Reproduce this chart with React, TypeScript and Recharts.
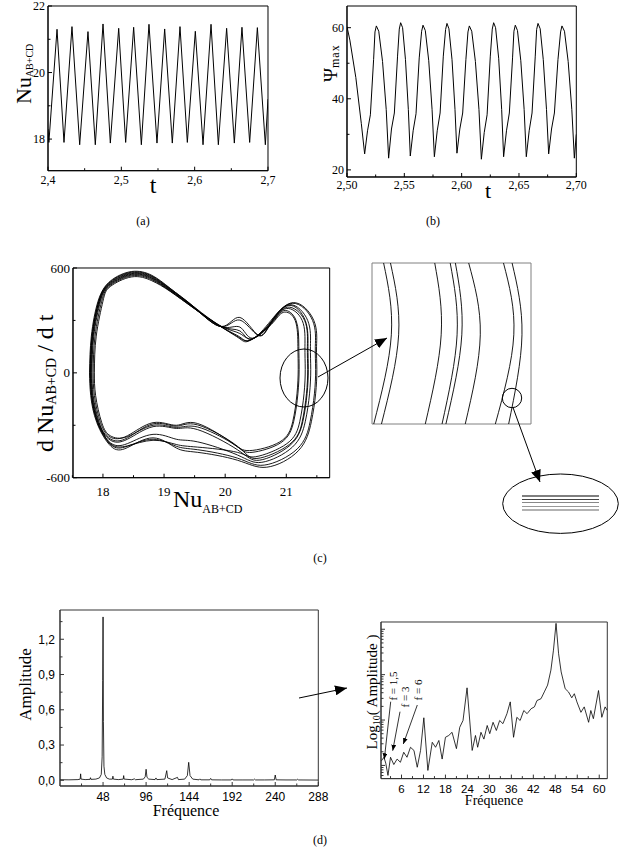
import React from "react";
import { LineChart, Line, XAxis, YAxis, ReferenceArea } from "recharts";

const SERIF = "'Liberation Serif', 'Times New Roman', serif";
const SANS = "'Liberation Sans', Arial, sans-serif";

// (a) Nu_AB+CD against t
const nuSeries: [number, number][] = [
  [2.4, 18.3], [2.4012, 17.9], [2.4123, 21.3], [2.4218, 17.9], [2.4327, 21.38], [2.4432, 17.83],
  [2.4545, 21.23], [2.4645, 17.83], [2.475, 21.46], [2.485, 17.88], [2.4964, 21.33], [2.5059, 17.9],
  [2.5168, 21.36], [2.5273, 17.83], [2.5377, 21.45], [2.5486, 17.88], [2.5591, 21.31], [2.5695, 17.88],
  [2.58, 21.38], [2.59, 17.9], [2.6009, 21.24], [2.6114, 17.83], [2.6223, 21.45], [2.6323, 17.83],
  [2.6436, 21.33], [2.6541, 17.88], [2.6645, 21.36], [2.675, 17.9], [2.6855, 21.35], [2.6964, 17.83],
  [2.7, 19.2],
];

// (b) psi max against t
const psiSeries: [number, number][] = [
  [2.5, 60.3], [2.5025, 56.5], [2.5077, 46], [2.5125, 33], [2.5154, 24.5],
  [2.5179, 31], [2.5204, 35.5], [2.5232, 51], [2.5244, 58.8], [2.5256, 60.5],
  [2.5277, 59], [2.531, 50.5], [2.5342, 37], [2.5363, 23.3],
  [2.5388, 31.5], [2.5413, 36], [2.5441, 52], [2.5456, 59.6], [2.5468, 61.4],
  [2.5485, 60], [2.551, 51], [2.5535, 37], [2.5552, 23.9],
  [2.5577, 31], [2.5602, 35.8], [2.563, 51.5], [2.5651, 59], [2.5663, 60.7],
  [2.5683, 59.2], [2.5713, 50.7], [2.5742, 37], [2.5762, 23.7],
  [2.5787, 31], [2.5812, 36], [2.584, 52], [2.586, 59.5], [2.5872, 61.2],
  [2.5889, 59.7], [2.5916, 51], [2.5942, 37], [2.5959, 24.7],
  [2.5984, 31.5], [2.6009, 36], [2.6037, 51], [2.6055, 58.8], [2.6067, 60.5],
  [2.6088, 59], [2.612, 50.5], [2.6151, 37], [2.6172, 23.0],
  [2.6197, 30.5], [2.6222, 35.5], [2.625, 52], [2.6267, 59.6], [2.6279, 61.4],
  [2.6296, 60], [2.6323, 51.4], [2.6349, 37], [2.6366, 23.7],
  [2.6391, 31], [2.6416, 36], [2.6444, 51.5], [2.6456, 59], [2.6468, 60.7],
  [2.6487, 59.2], [2.6516, 50.7], [2.6545, 37], [2.6564, 23.7],
  [2.6589, 31], [2.6614, 36], [2.6642, 52], [2.6654, 59.5], [2.6666, 61.2],
  [2.6685, 59.7], [2.6712, 51], [2.674, 37], [2.6759, 24.5],
  [2.6784, 31.5], [2.6809, 36], [2.684, 51], [2.6863, 58.8], [2.6875, 60.5],
  [2.6897, 59], [2.6929, 50.5], [2.6961, 37], [2.6983, 23.3],
  [2.7, 30],
];

// (c) phase portrait, one closed loop per orbit
const loop1: [number, number][] = [
  [17.78, 0], [17.81, 210], [17.92, 410], [18.12, 525], [18.47, 580], [18.8, 558], [19.1, 484], [19.5, 375],
  [19.94, 266], [20.24, 225], [20.45, 196], [20.75, 300], [21.12, 402], [21.45, 300], [21.495, 150], [21.5, 20],
  [21.48, -120], [21.41, -280], [21.2, -445], [20.68, -540], [20.2, -500], [19.55, -455], [19.2, -430],
  [18.82, -372], [18.4, -428], [18.13, -420], [17.9, -285], [17.8, -130], [17.78, 0],
];
const loop2: [number, number][] = [
  [17.79, 0], [17.82, 210], [17.93, 410], [18.12, 521], [18.47, 576], [18.8, 554], [19.1, 482], [19.5, 374],
  [19.94, 265], [20.24, 317], [20.54, 216], [20.75, 290], [21.1, 398], [21.43, 300], [21.475, 150], [21.48, 20],
  [21.46, -120], [21.39, -280], [21.18, -435], [20.64, -528], [20.2, -488], [19.55, -440], [19.2, -420],
  [18.82, -380], [18.4, -420], [18.13, -412], [17.91, -285], [17.81, -130], [17.79, 0],
];
const loop3: [number, number][] = [
  [17.795, 0], [17.825, 210], [17.935, 410], [18.12, 517], [18.47, 572], [18.8, 550], [19.1, 479], [19.5, 372],
  [19.94, 264], [20.24, 240], [20.43, 192], [20.75, 292], [21.06, 390], [21.35, 300], [21.395, 150], [21.4, 20],
  [21.38, -120], [21.31, -280], [21.1, -425], [20.6, -512], [20.2, -470], [19.55, -395], [19.2, -380],
  [18.82, -352], [18.4, -405], [18.12, -400], [17.915, -285], [17.815, -130], [17.795, 0],
];
const loop4: [number, number][] = [
  [17.8, 0], [17.83, 210], [17.94, 410], [18.12, 513], [18.47, 568], [18.8, 546], [19.1, 477], [19.5, 371],
  [19.94, 264], [20.24, 302], [20.54, 214], [20.75, 285], [21.04, 386], [21.31, 300], [21.355, 150], [21.36, 20],
  [21.34, -120], [21.27, -280], [21.06, -415], [20.56, -500], [20.2, -440], [19.55, -325], [19.2, -318],
  [18.82, -308], [18.4, -380], [18.12, -385], [17.92, -285], [17.82, -130], [17.8, 0],
];
const loop5: [number, number][] = [
  [17.81, 0], [17.84, 210], [17.95, 410], [18.12, 509], [18.47, 564], [18.8, 542], [19.1, 474], [19.5, 370],
  [19.94, 263], [20.24, 205], [20.42, 188], [20.75, 288], [21.02, 376], [21.3, 300], [21.345, 150], [21.35, 20],
  [21.33, -120], [21.26, -280], [21.05, -410], [20.52, -490], [20.2, -420], [19.55, -298], [19.2, -305],
  [18.82, -292], [18.4, -372], [18.12, -378], [17.93, -285], [17.83, -130], [17.81, 0],
];
const loop6: [number, number][] = [
  [17.82, 0], [17.85, 210], [17.96, 410], [18.12, 505], [18.47, 560], [18.8, 538], [19.1, 471], [19.5, 368],
  [19.94, 263], [20.24, 262], [20.44, 198], [20.75, 282], [21.0, 368], [21.26, 300], [21.305, 150], [21.31, 20],
  [21.29, -120], [21.22, -280], [21.01, -405], [20.5, -480], [20.2, -455], [19.55, -425], [19.2, -410],
  [18.82, -386], [18.4, -418], [18.12, -405], [17.94, -285], [17.84, -130], [17.82, 0],
];
const loop7: [number, number][] = [
  [17.84, 0], [17.87, 210], [17.98, 410], [18.12, 500], [18.47, 555], [18.8, 533], [19.1, 468], [19.5, 367],
  [19.94, 262], [20.24, 195], [20.41, 186], [20.75, 280], [20.96, 356], [21.16, 300], [21.205, 150], [21.21, 20],
  [21.19, -120], [21.12, -280], [20.91, -400], [20.44, -455], [20.15, -410], [19.55, -290], [19.2, -300],
  [18.82, -285], [18.4, -360], [18.12, -368], [17.96, -285], [17.86, -130], [17.84, 0],
];
const loop8: [number, number][] = [
  [17.86, 0], [17.89, 210], [18.0, 410], [18.12, 494], [18.47, 549], [18.8, 527], [19.1, 466], [19.5, 366],
  [19.94, 262], [20.24, 200], [20.42, 190], [20.75, 275], [20.95, 346], [21.145, 300], [21.19, 150], [21.195, 20],
  [21.175, -120], [21.105, -280], [20.895, -395], [20.4, -445], [20.1, -400], [19.55, -310], [19.2, -312],
  [18.82, -300], [18.4, -365], [18.12, -360], [17.98, -285], [17.88, -130], [17.86, 0],
];
const loops = [loop1, loop2, loop3, loop4, loop5, loop6, loop7, loop8];

// (c) magnified window: the eight branches as read inside the square
const zoomArcs: [number, number][][] = [
  [[21.177, 200], [21.195, 35], [21.154, -170]],
  [[21.193, 200], [21.212, 35], [21.172, -170]],
  [[21.296, 200], [21.311, 35], [21.274, -170]],
  [[21.332, 200], [21.348, 35], [21.313, -170]],
  [[21.344, 200], [21.359, 35], [21.322, -170]],
  [[21.375, 200], [21.402, 35], [21.367, -170]],
  [[21.456, 200], [21.48, 35], [21.437, -170]],
  [[21.476, 200], [21.499, 35], [21.468, -170]],
];

// (d) amplitude spectrum
const spectrum: [number, number][] = [
  [0, 0.005], [10, 0.004], [20, 0.006], [22.5, 0.01], [23, 0.055], [23.5, 0.01], [28, 0.006], [33.5, 0.008],
  [34, 0.022], [34.5, 0.008], [40, 0.01], [44, 0.02], [46, 0.05], [47, 0.2], [47.6, 0.85], [48, 1.39],
  [48.4, 0.5], [49, 0.12], [50, 0.05], [52, 0.02], [55, 0.01], [58.5, 0.01], [59, 0.035], [59.5, 0.01],
  [65, 0.006], [70.5, 0.01], [71, 0.04], [71.5, 0.01], [80, 0.005], [83, 0.012], [84, 0.005], [93, 0.01],
  [95, 0.03], [96, 0.094], [97, 0.025], [99, 0.01], [106, 0.006], [107, 0.02], [108, 0.006], [117, 0.01],
  [119, 0.082], [120, 0.02], [125, 0.006], [131, 0.025], [132, 0.006], [139, 0.01], [142, 0.04], [143.5, 0.153],
  [145, 0.04], [148, 0.01], [155, 0.004], [156, 0.012], [157, 0.004], [167, 0.004], [168, 0.016], [169, 0.004],
  [180, 0.003], [191, 0.003], [192, 0.012], [193, 0.003], [204, 0.003], [216, 0.003], [217, 0.01], [218, 0.003],
  [228, 0.003], [239, 0.004], [240, 0.045], [241, 0.004], [252, 0.003], [264, 0.003], [265, 0.009], [266, 0.003],
  [288, 0.002],
];

// (d) log10 of the amplitude, low frequencies
const logSpectrum: [number, number][] = [
  [0.5, -2.9], [1.2, -2.82], [1.7, -2.95], [2.3, -3.22], [3.0, -2.82], [3.9, -2.98], [4.8, -2.86], [5.7, -2.93],
  [6.6, -2.71], [7.5, -2.82], [8.45, -2.6], [9.4, -2.67], [10.3, -3.04], [11.2, -2.67], [12.1, -1.95], [13.2, -3.11],
  [14.4, -2.49], [15.3, -2.6], [16.2, -2.45], [17.1, -2.86], [18.0, -2.38], [18.9, -2.34], [19.8, -2.27], [21.0, -2.63],
  [21.9, -2.16], [22.8, -2.01], [23.9, -1.29], [25.3, -2.67], [26.2, -2.34], [26.8, -2.6], [27.7, -2.27], [28.5, -2.42],
  [29.4, -2.12], [30.1, -2.3], [31.0, -2.05], [31.9, -2.23], [32.8, -2.01], [33.7, -2.08], [34.8, -1.86], [35.7, -1.6],
  [36.6, -2.38], [37.5, -1.94], [38.4, -2.01], [39.4, -1.79], [40.3, -1.86], [41.4, -1.75], [42.3, -1.71], [43.0, -1.57],
  [44.1, -1.53], [45.0, -1.38], [45.9, -1.23], [46.8, -0.9], [47.5, -0.46], [48.2, 0.13], [48.9, -0.54], [49.6, -0.94],
  [50.7, -1.31], [51.6, -1.38], [52.5, -1.51], [53.2, -1.42], [53.9, -1.6], [55.0, -1.83], [55.9, -1.71], [57.1, -2.05],
  [57.7, -1.79], [58.4, -1.97], [59.8, -1.35], [60.7, -1.94], [61.6, -1.71], [62.2, -1.79],
];

// ticks
const aMajorX = [2.4, 2.5, 2.6, 2.7];
const aMinorX = [2.45, 2.55, 2.65];
const aMajorY = [18, 20, 22];
const aMinorY = [19, 21];
const bMajorX = [2.5, 2.55, 2.6, 2.65, 2.7];
const bMinorX = [2.525, 2.575, 2.625, 2.675];
const bMajorY = [20, 40, 60];
const bMinorY = [30, 50];
const cMajorX = [18, 19, 20, 21];
const cMinorX = [17.5, 18.5, 19.5, 20.5, 21.5];
const cMajorY = [-600, 0, 600];
const cMinorY = [-300, 300];
const dMajorX = [48, 96, 144, 192, 240, 288];
const dMinorX = [24, 72, 120, 168, 216, 264];
const dMajorY = [0, 0.3, 0.6, 0.9, 1.2];
const dMinorY = [0.15, 0.45, 0.75, 1.05, 1.35];
const eMajorX = [6, 12, 18, 24, 30, 36, 42, 48, 54, 60];
const eMinorX = [3, 9, 15, 21, 27, 33, 39, 45, 51, 57];
const eMajorY = [-3, -2, -1, 0];
const eMinorY = [-4, -3, -2, -1, 0]
  .flatMap((d) => [2, 3, 4, 5, 6, 7, 8, 9].map((k) => d + Math.log10(k)))
  .filter((v) => v > -3.29 && v < 0.16);

const pts = (a: [number, number][]) => a.map(([x, y]) => ({ x, y }));
const comma1 = (v: number) => v.toFixed(1).replace(".", ",");
const comma2 = (v: number) => v.toFixed(2).replace(".", ",");
const plain = (v: number) => String(v);
const isIn = (list: number[], v: number) => list.some((m) => Math.abs(m - v) < 1e-9);

const xTick = (majors: number[], fmt: ((v: number) => string) | null, font: string, size: number, gap: number, color = "#000") =>
  (p: any) => {
    const v = p.payload.value;
    const major = isIn(majors, v);
    return (
      <g>
        <line x1={p.x} x2={p.x} y1={p.y} y2={p.y - (major ? 4 : 2.5)} stroke={color} strokeWidth={1} />
        {major && fmt ? (
          <text x={p.x} y={p.y + gap} dy="0.71em" textAnchor="middle" fontFamily={font} fontSize={size} fill="#000">
            {fmt(v)}
          </text>
        ) : null}
      </g>
    );
  };

const yTick = (majors: number[], fmt: ((v: number) => string) | null, font: string, size: number, gap: number, color = "#000") =>
  (p: any) => {
    const v = p.payload.value;
    const major = isIn(majors, v);
    return (
      <g>
        <line x1={p.x} x2={p.x + (major ? 4 : 2.5)} y1={p.y} y2={p.y} stroke={color} strokeWidth={1} />
        {major && fmt ? (
          <text x={p.x - gap} y={p.y} dy="0.355em" textAnchor="end" fontFamily={font} fontSize={size} fill="#000">
            {fmt(v)}
          </text>
        ) : null}
      </g>
    );
  };

const PAD = 14;
function place(l: number, t: number, r: number, b: number, yw: number, xh: number) {
  return {
    style: { position: "absolute" as const, left: l - yw - PAD, top: t - PAD },
    width: r - l + yw + 2 * PAD,
    height: b - t + xh + 2 * PAD,
    margin: { top: PAD, right: PAD, bottom: PAD, left: PAD },
  };
}

// a plain rectangle round the plotting area
function frame(x: [number, number], y: [number, number], color: string) {
  return <ReferenceArea x1={x[0]} x2={x[1]} y1={y[0]} y2={y[1]} fill="none" fillOpacity={0} stroke={color} strokeWidth={1} ifOverflow="visible" />;
}

const A = place(48, 6, 268, 170.7, 40, 30);
const B = place(346.7, 6, 576, 177, 40, 30);
const C = place(73.3, 268, 330, 477.7, 50, 30);
const Z = place(371.7, 263.3, 530.7, 424.3, 0, 0);
const D = place(60, 610, 318.3, 786, 50, 30);
const E = place(381, 621.7, 607.3, 778.3, 10, 30);

const axisCommon = { type: "number" as const, interval: 0 as const, tickLine: false, tickSize: 0, tickMargin: 0, allowDataOverflow: true };

export default function App() {
  return (
    <div style={{ position: "absolute", left: 0, top: 0, width: 630, height: 858, background: "#fff", fontFamily: SERIF }}>
      {/* (a) */}
      <div style={A.style}>
        <LineChart width={A.width} height={A.height} margin={A.margin}>
          <XAxis {...axisCommon} dataKey="x" domain={[2.4, 2.7]} ticks={[...aMajorX, ...aMinorX]} height={30}
            axisLine={{ stroke: "#000" }} tick={xTick(aMajorX, comma1, SERIF, 12, 5)} />
          <YAxis {...axisCommon} domain={[17.05, 22]} ticks={[...aMajorY, ...aMinorY]} width={40}
            axisLine={{ stroke: "#000" }} tick={yTick(aMajorY, plain, SERIF, 12, 3)} />
          {frame([2.4, 2.7], [17.05, 22], "#000")}
          <Line data={pts(nuSeries)} dataKey="y" type="linear" stroke="#000" strokeWidth={1} dot={false} isAnimationActive={false} />
        </LineChart>
      </div>

      {/* (b) */}
      <div style={B.style}>
        <LineChart width={B.width} height={B.height} margin={B.margin}>
          <XAxis {...axisCommon} dataKey="x" domain={[2.5, 2.7]} ticks={[...bMajorX, ...bMinorX]} height={30}
            axisLine={{ stroke: "#000" }} tick={xTick(bMajorX, comma2, SERIF, 12, 3)} />
          <YAxis {...axisCommon} domain={[18, 66.1]} ticks={[...bMajorY, ...bMinorY]} width={40}
            axisLine={{ stroke: "#000" }} tick={yTick(bMajorY, plain, SERIF, 12, 3)} />
          {frame([2.5, 2.7], [18, 66.1], "#000")}
          <Line data={pts(psiSeries)} dataKey="y" type="linear" stroke="#000" strokeWidth={1} dot={false} isAnimationActive={false} />
        </LineChart>
      </div>

      {/* (c) phase portrait */}
      <div style={C.style}>
        <LineChart width={C.width} height={C.height} margin={C.margin}>
          <XAxis {...axisCommon} dataKey="x" domain={[17.51, 21.71]} ticks={[...cMajorX, ...cMinorX]} height={30}
            axisLine={{ stroke: "#000" }} tick={xTick(cMajorX, plain, SERIF, 13, 9)} />
          <YAxis {...axisCommon} domain={[-600, 600]} ticks={[...cMajorY, ...cMinorY]} width={50}
            axisLine={{ stroke: "#000" }} tick={yTick(cMajorY, plain, SERIF, 13, 3)} />
          {frame([17.51, 21.71], [-600, 600], "#000")}
          {loops.map((lp, i) => (
            <Line key={i} data={pts(lp)} dataKey="y" type="natural" stroke="#000" strokeWidth={0.9} dot={false} isAnimationActive={false} />
          ))}
        </LineChart>
      </div>

      {/* (c) magnified window */}
      <div style={Z.style}>
        <LineChart width={Z.width} height={Z.height} margin={Z.margin}>
          <XAxis {...axisCommon} dataKey="x" domain={[21.15, 21.52]} height={0} tick={false} axisLine={false} />
          <YAxis {...axisCommon} domain={[-170, 200]} width={0} tick={false} axisLine={false} />
          {frame([21.15, 21.52], [-170, 200], "#808080")}
          {zoomArcs.map((arc, i) => (
            <Line key={i} data={pts(arc)} dataKey="y" type="natural" stroke="#000" strokeWidth={0.9} dot={false} isAnimationActive={false} />
          ))}
        </LineChart>
      </div>

      {/* (d) spectrum */}
      <div style={D.style}>
        <LineChart width={D.width} height={D.height} margin={D.margin}>
          <XAxis {...axisCommon} dataKey="x" domain={[0, 288]} ticks={[...dMajorX, ...dMinorX]} height={30}
            axisLine={{ stroke: "#333" }} tick={xTick(dMajorX, plain, SANS, 12, 6, "#333")} />
          <YAxis {...axisCommon} domain={[-0.0485, 1.449]} ticks={[...dMajorY, ...dMinorY]} width={50}
            axisLine={{ stroke: "#333" }} tick={yTick(dMajorY, comma1, SANS, 12, 5, "#333")} />
          {frame([0, 288], [-0.0485, 1.449], "#333")}
          <Line data={pts(spectrum)} dataKey="y" type="linear" stroke="#000" strokeWidth={0.8} dot={false} isAnimationActive={false} />
        </LineChart>
      </div>

      {/* (d) log spectrum */}
      <div style={E.style}>
        <LineChart width={E.width} height={E.height} margin={E.margin}>
          <XAxis {...axisCommon} dataKey="x" domain={[0.4, 62.2]} ticks={[...eMajorX, ...eMinorX]} height={30}
            axisLine={{ stroke: "#333" }} tick={xTick(eMajorX, plain, SANS, 11.5, 6, "#333")} />
          <YAxis {...axisCommon} domain={[-3.29, 0.16]} ticks={[...eMajorY, ...eMinorY]} width={10}
            axisLine={{ stroke: "#333" }} tick={yTick(eMajorY, null, SANS, 11, 4, "#333")} />
          {frame([0.4, 62.2], [-3.29, 0.16], "#333")}
          <Line data={pts(logSpectrum)} dataKey="y" type="linear" stroke="#000" strokeWidth={0.8} dot={false} isAnimationActive={false} />
        </LineChart>
      </div>

      {/* titles, captions and annotations */}
      <svg width={630} height={858} style={{ position: "absolute", left: 0, top: 0, pointerEvents: "none" }} fontFamily={SERIF}>
        <defs>
          <marker id="big" viewBox="0 0 12 10" refX="12" refY="5" markerWidth="12" markerHeight="10" markerUnits="userSpaceOnUse" orient="auto">
            <path d="M0,0 L12,5 L0,10 z" fill="#000" />
          </marker>
          <marker id="small" viewBox="0 0 10 8" refX="10" refY="4" markerWidth="6" markerHeight="5" markerUnits="userSpaceOnUse" orient="auto">
            <path d="M0,0 L10,4 L0,8 z" fill="#000" />
          </marker>
        </defs>

        <text transform="translate(31,104) rotate(-90)" fontSize={22}>
          Nu<tspan fontSize={10} dy={1.5}>AB+CD</tspan>
        </text>
        <text x={153} y={193} textAnchor="middle" fontSize={24}>t</text>
        <text x={143} y={225} textAnchor="middle" fontSize={12}>(a)</text>

        <text transform="translate(337,82) rotate(-90)" fontSize={19}>
          Ψ<tspan fontSize={12} dy={1.5} letterSpacing={1}>max</tspan>
        </text>
        <text x={488} y={198} textAnchor="middle" fontSize={22}>t</text>
        <text x={433} y={225} textAnchor="middle" fontSize={12}>(b)</text>

        <text transform="translate(53,452) rotate(-90)" fontSize={24}>
          d Nu<tspan fontSize={14} dy={3}>AB+CD</tspan><tspan dy={-3}> / d t</tspan>
        </text>
        <text x={173} y={507} fontSize={24}>
          Nu<tspan fontSize={12} dy={6}>AB+CD</tspan>
        </text>
        <text x={320} y={562} textAnchor="middle" fontSize={12}>(c)</text>

        <ellipse cx={304} cy={378} rx={24} ry={29} fill="none" stroke="#000" strokeWidth={1} />
        <line x1={318} y1={377} x2={387} y2={338} stroke="#000" strokeWidth={1} markerEnd="url(#big)" />
        <circle cx={512} cy={398} r={9.7} fill="none" stroke="#000" strokeWidth={1} />
        <line x1={513} y1={407.5} x2={540} y2={482} stroke="#000" strokeWidth={1} markerEnd="url(#big)" />
        <ellipse cx={560.5} cy={503.7} rx={57.8} ry={29.7} fill="none" stroke="#000" strokeWidth={1} />
        <line x1={522} x2={599} y1={496} y2={496} stroke="#000" strokeWidth={1.2} />
        <line x1={522} x2={599} y1={499.5} y2={499.5} stroke="#444" strokeWidth={1.2} />
        <line x1={522} x2={599} y1={502.5} y2={502.5} stroke="#888" strokeWidth={1.2} />
        <line x1={522} x2={599} y1={506.5} y2={506.5} stroke="#999" strokeWidth={1.2} />
        <line x1={522} x2={599} y1={510} y2={510} stroke="#666" strokeWidth={1.2} />

        <text transform="translate(31,684.5) rotate(-90)" textAnchor="middle" fontSize={17}>Amplitude</text>
        <text x={186} y={816} textAnchor="middle" fontSize={16}>Fréquence</text>
        <line x1={299} y1={698} x2={347} y2={688} stroke="#000" strokeWidth={1} markerEnd="url(#big)" />

        <text transform="translate(377,692) rotate(-90)" textAnchor="middle" fontSize={15}>
          Log<tspan fontSize={10} dy={3}>10</tspan><tspan dy={-3}>( Amplitude )</tspan>
        </text>
        <text x={494} y={805} textAnchor="middle" fontSize={14}>Fréquence</text>

        <text transform="translate(397,686) rotate(-90)" textAnchor="middle" fontSize={11}>f = 1,5</text>
        <text transform="translate(409,697) rotate(-90)" textAnchor="middle" fontSize={11}>f = 3</text>
        <text transform="translate(422,690) rotate(-90)" textAnchor="middle" fontSize={11}>f = 6</text>
        <line x1={390.7} y1={701.7} x2={384.3} y2={759.3} stroke="#000" strokeWidth={0.8} markerEnd="url(#small)" />
        <line x1={400} y1={711.7} x2={392.7} y2={750.7} stroke="#000" strokeWidth={0.8} markerEnd="url(#small)" />
        <line x1={417.3} y1={705} x2={403.3} y2={744} stroke="#000" strokeWidth={0.8} markerEnd="url(#small)" />

        <text x={320} y={844} textAnchor="middle" fontSize={12}>(d)</text>
      </svg>
    </div>
  );
}
